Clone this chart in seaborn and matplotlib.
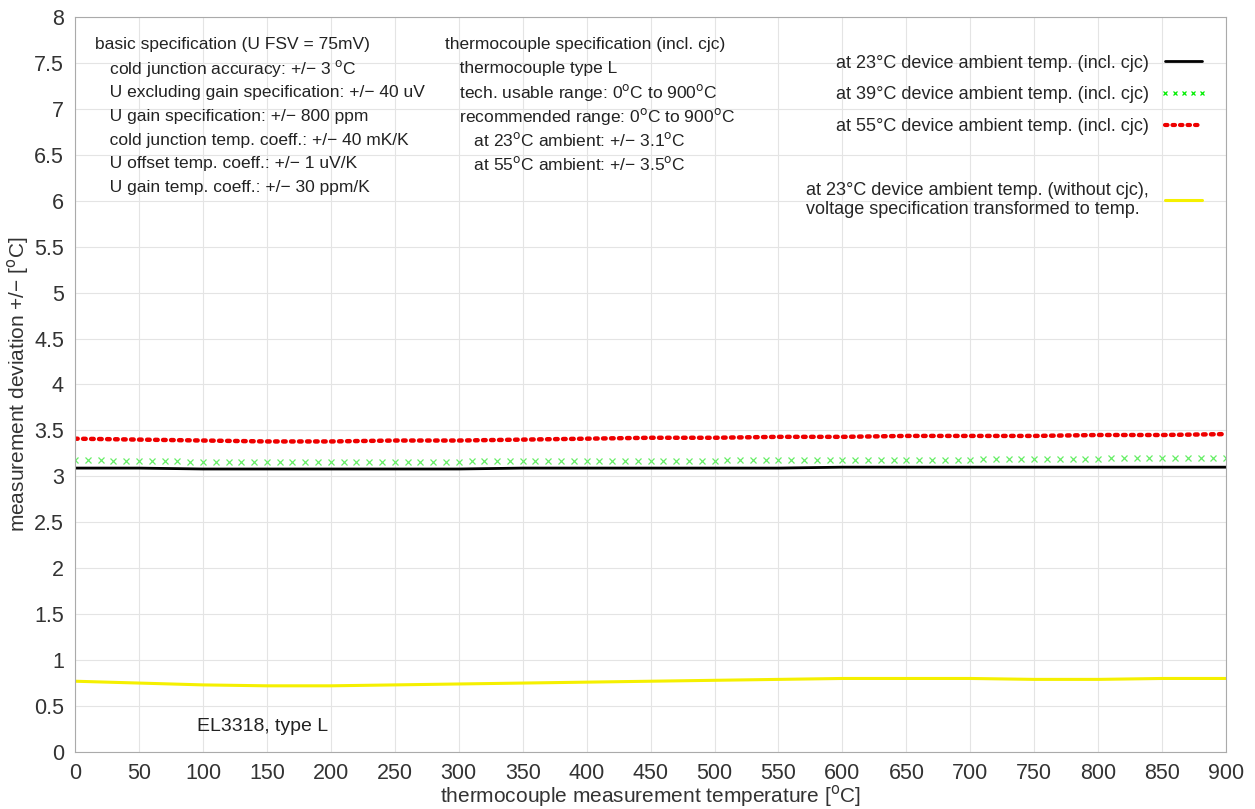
import numpy as np
import seaborn as sns
import pandas as pd
import matplotlib.pyplot as plt
from matplotlib.lines import Line2D

# temperatures (50 degC steps) and the read-off deviations
temp = [0, 50, 100, 150, 200, 250, 300, 350, 400, 450, 500, 550, 600, 650, 700, 750, 800, 850, 900]
dev_23 = [3.09, 3.09, 3.08, 3.08, 3.08, 3.08, 3.08, 3.09, 3.09, 3.09, 3.09, 3.09, 3.10, 3.10, 3.10, 3.10, 3.10, 3.10, 3.10]
dev_55 = [3.41, 3.40, 3.39, 3.38, 3.38, 3.39, 3.39, 3.40, 3.41, 3.42, 3.42, 3.43, 3.43, 3.44, 3.44, 3.44, 3.45, 3.45, 3.46]
dev_volt = [0.77, 0.75, 0.73, 0.72, 0.72, 0.73, 0.74, 0.75, 0.76, 0.77, 0.78, 0.79, 0.80, 0.80, 0.80, 0.79, 0.79, 0.80, 0.80]

# 39 degC series is drawn with markers, so it has a finer step (10 degC)
temp_fine = list(range(0, 901, 10))
dev_39 = [3.18, 3.18, 3.18, 3.17, 3.17, 3.17, 3.17, 3.17, 3.17, 3.16,
          3.16, 3.16, 3.16, 3.16, 3.16, 3.16, 3.16, 3.16, 3.16, 3.16,
          3.16, 3.16, 3.16, 3.16, 3.16, 3.16, 3.16, 3.16, 3.16, 3.16,
          3.16, 3.17, 3.17, 3.17, 3.17, 3.17, 3.17, 3.17, 3.17, 3.17,
          3.17, 3.17, 3.17, 3.17, 3.17, 3.17, 3.17, 3.17, 3.17, 3.17,
          3.17, 3.18, 3.18, 3.18, 3.18, 3.18, 3.18, 3.18, 3.18, 3.18,
          3.18, 3.18, 3.18, 3.18, 3.18, 3.18, 3.18, 3.18, 3.18, 3.18,
          3.18, 3.19, 3.19, 3.19, 3.19, 3.19, 3.19, 3.19, 3.19, 3.19,
          3.19, 3.20, 3.20, 3.20, 3.20, 3.20, 3.20, 3.20, 3.20, 3.20,
          3.20]

labels = ["at 23°C device ambient temp. (incl. cjc)",
          "at 39°C device ambient temp. (incl. cjc)",
          "at 55°C device ambient temp. (incl. cjc)",
          "at 23°C device ambient temp. (without cjc),\nvoltage specification transformed to temp."]

sns.set_theme(style="whitegrid")
plt.rcParams['font.family'] = ['Liberation Sans', 'DejaVu Sans']

fig = plt.figure(figsize=(12.55, 8.09), dpi=100)
ax = fig.add_axes([0.0598, 0.0705, 0.9172, 0.9085])

df = pd.DataFrame({"t": temp, "d23": dev_23, "d55": dev_55, "dv": dev_volt})
df39 = pd.DataFrame({"t": temp_fine, "d39": dev_39})

sns.lineplot(data=df, x="t", y="dv", ax=ax, color="#f5f000", lw=2.2)
sns.lineplot(data=df, x="t", y="d23", ax=ax, color="black", lw=2)
ax.plot(df39["t"], df39["d39"], linestyle="none", marker="x", ms=4.5, mew=0.9,
        color="#66ee66")
sns.lineplot(data=df, x="t", y="d55", ax=ax, color="#ee0000", lw=3.2,
             linestyle=(0, (0.6, 1.2)), dash_capstyle="round")

ax.set_xlim(0, 900)
ax.set_ylim(0, 8)
ax.set_xticks(np.arange(0, 901, 50))
ax.set_yticks(np.arange(0, 8.01, 0.5))
ax.set_yticklabels(["0", "0.5", "1", "1.5", "2", "2.5", "3", "3.5", "4", "4.5",
                    "5", "5.5", "6", "6.5", "7", "7.5", "8"])
ax.tick_params(labelsize=15.5, colors="#333333", pad=2)
ax.grid(color="#e4e4e4", lw=0.8)
for s in ax.spines.values():
    s.set_color("#aaaaaa")
    s.set_linewidth(0.8)

ax.set_xlabel("thermocouple measurement temperature [$^\\mathrm{o}$C]", fontsize=15,
              color="#333333")
ax.set_ylabel("measurement deviation +/− [$^\\mathrm{o}$C]", fontsize=15,
              color="#333333")
ax.xaxis.set_label_coords(0.5, -0.042)
ax.yaxis.set_label_coords(-0.038, 0.5)

# specification text blocks
fs = 12.5
left = ["basic specification (U FSV = 75mV)",
        "   cold junction accuracy: +/− 3 $^\\mathrm{o}$C",
        "   U excluding gain specification: +/− 40 uV",
        "   U gain specification: +/− 800 ppm",
        "   cold junction temp. coeff.: +/− 40 mK/K",
        "   U offset temp. coeff.: +/− 1 uV/K",
        "   U gain temp. coeff.: +/− 30 ppm/K"]
mid = ["thermocouple specification (incl. cjc)",
       "   thermocouple type L",
       "   tech. usable range: 0$^\\mathrm{o}$C to 900$^\\mathrm{o}$C",
       "   recommended range: 0$^\\mathrm{o}$C to 900$^\\mathrm{o}$C",
       "      at 23$^\\mathrm{o}$C ambient: +/− 3.1$^\\mathrm{o}$C",
       "      at 55$^\\mathrm{o}$C ambient: +/− 3.5$^\\mathrm{o}$C"]
for i, s in enumerate(left):
    ax.text(0.017, 0.962 - i * 0.0324, s, transform=ax.transAxes, fontsize=fs,
            va="center", ha="left", color="#222222")
for i, s in enumerate(mid):
    ax.text(0.321, 0.962 - i * 0.0324, s, transform=ax.transAxes, fontsize=fs,
            va="center", ha="left", color="#222222")

ax.text(0.106, 0.034, "EL3318, type L", transform=ax.transAxes, fontsize=14,
        va="center", ha="left", color="#222222")

handles = [Line2D([], [], color="black", lw=2),
           Line2D([], [], color="#00ee00", linestyle="none", marker="x", ms=3.5, mew=0.9),
           Line2D([], [], color="#ee0000", lw=3, linestyle=(0, (0.6, 1.2)), dash_capstyle="round"),
           Line2D([], [], color="none"),
           Line2D([], [], color="#f5f000", lw=2.2)]
leg_labels = [labels[0], labels[1], labels[2], " ", labels[3]]
leg = ax.legend(handles, leg_labels, loc="upper right", bbox_to_anchor=(0.9975, 0.971),
                frameon=False, markerfirst=False, fontsize=13, handlelength=2.6,
                labelspacing=0.82, handletextpad=0.6, numpoints=5)
for t in leg.get_texts():
    t.set_ha("right")
leg.get_texts()[-1].set_multialignment("left")

fig.savefig("out.png", dpi=100)
